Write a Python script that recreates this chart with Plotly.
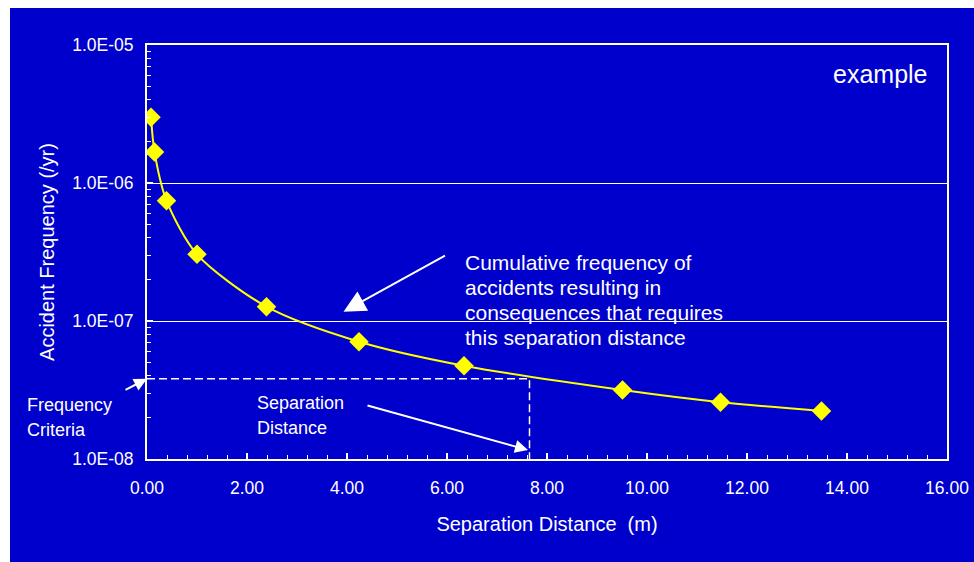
import plotly.graph_objects as go
import numpy as np

# ---- data ----
separation_m = [0.08, 0.15, 0.39, 1.00, 2.39, 4.24, 6.34, 9.51, 11.47, 13.49]
frequency_per_yr = [3.0e-6, 1.68e-6, 7.45e-7, 3.04e-7, 1.27e-7, 7.08e-8, 4.74e-8, 3.16e-8, 2.58e-8, 2.23e-8]

frequency_criteria = 3.82e-8
separation_distance = 7.65

y_tick_vals = [1e-8, 1e-7, 1e-6, 1e-5]
y_tick_labels = ["1.0E-08", "1.0E-07", "1.0E-06", "1.0E-05"]
x_tick_vals = [0, 2, 4, 6, 8, 10, 12, 14, 16]
x_tick_labels = ["0.00", "2.00", "4.00", "6.00", "8.00", "10.00", "12.00", "14.00", "16.00"]

# ---- layout geometry (screen pixels; page margin removed) ----
W, H = 974, 562
L, T = 147, 45
R, B = W - 947, H - 459
PW, PH = W - L - R, H - T - B

def px(x):  # screen x -> paper fraction
    return (x - L) / PW

def py(y):  # screen y -> paper fraction
    return (H - B - y) / PH

BLUE = "#0000CC"
YELLOW = "#FFFF00"
FONT = "Liberation Sans, Arial, sans-serif"

fig = go.Figure()

# dashed reference lines
fig.add_trace(go.Scatter(
    x=[0, separation_distance, separation_distance],
    y=[frequency_criteria, frequency_criteria, y_tick_vals[0]],
    mode="lines", line=dict(color="white", width=1.5, dash="8px,4px"),
    hoverinfo="skip", showlegend=False))

# main series
fig.add_trace(go.Scatter(
    x=separation_m, y=frequency_per_yr, mode="lines+markers",
    line=dict(color=YELLOW, width=2, shape="spline", smoothing=0.8),
    marker=dict(symbol="diamond", size=15, color=YELLOW),
    showlegend=False))

fig.update_layout(
    width=W, height=H,
    margin=dict(l=L, r=R, t=T, b=B, autoexpand=False),
    paper_bgcolor="white",
    plot_bgcolor=BLUE,
    showlegend=False,
    font=dict(family=FONT, color="white", size=17),
    shapes=[dict(type="rect", xref="paper", yref="paper",
                 x0=px(10), x1=px(990), y0=py(8), y1=py(580),
                 fillcolor=BLUE, line=dict(width=0), layer="below")],
)

fig.update_xaxes(
    range=[0, 16], tickmode="array", tickvals=x_tick_vals, ticktext=x_tick_labels,
    ticks="inside", ticklen=6, tickwidth=1.5, tickcolor="white",
    ticklabelstandoff=12, automargin=False,
    minor=dict(ticks="inside", ticklen=4, tickwidth=1.2, tickcolor="white", dtick=0.4, tick0=0, showgrid=False),
    showline=True, linecolor="white", linewidth=2, mirror=True,
    showgrid=False, zeroline=False,
    title=dict(text="Separation Distance  (m)", font=dict(size=20), standoff=20),
    tickfont=dict(size=17.5),
)
fig.update_yaxes(
    type="log", range=[-8, -5], tickmode="array", tickvals=y_tick_vals, ticktext=y_tick_labels,
    ticks="inside", ticklen=6, tickwidth=1.5, tickcolor="white",
    ticklabelstandoff=8, automargin=False,
    minor=dict(ticks="inside", ticklen=4, tickwidth=1.2, tickcolor="white", dtick="D1", showgrid=False),
    showline=True, linecolor="white", linewidth=2, mirror=True,
    showgrid=True, gridcolor="white", gridwidth=1.2, zeroline=False,
    title=dict(text="Accident Frequency (/yr)", font=dict(size=20), standoff=12),
    tickfont=dict(size=17.5),
)

annotations = []

def text_line(s, x, y, size, xanchor="left"):
    annotations.append(dict(text=s, xref="paper", yref="paper", x=px(x), y=py(y),
                            xanchor=xanchor, yanchor="middle", showarrow=False,
                            font=dict(size=size, color="white", family=FONT)))

text_line("example", 930, 74, 25, xanchor="right")
for i, s in enumerate(["Cumulative frequency of", "accidents resulting in",
                       "consequences that requires", "this separation distance"]):
    text_line(s, 463, 262 + 25 * i, 21)
text_line("Frequency", 25, 405, 18)
text_line("Criteria", 25, 430, 18)
text_line("Separation", 255, 403, 18)
text_line("Distance", 255, 428, 18)

# arrows (heads in data coords, tails in pixel offsets)
def arrow(hx, hy, ax, ay, head, size, width=2):
    annotations.append(dict(x=hx, y=np.log10(hy), xref="x", yref="y", text="",
                            showarrow=True, arrowhead=head, arrowsize=size, arrowwidth=width,
                            arrowcolor="white", ax=ax, ay=ay, standoff=0))

arrow(3.93, 10 ** -6.933, 103, -57, 2, 2.2)
arrow(0.0, frequency_criteria, -23, 12, 2, 1.3)
arrow(7.62, 10 ** -7.935, -162, -45, 2, 1.3)

fig.update_layout(annotations=annotations)

fig.write_html("out.html", config={"displayModeBar": False},
               post_script="document.body.style.margin='0px';document.body.style.overflow='hidden';")
